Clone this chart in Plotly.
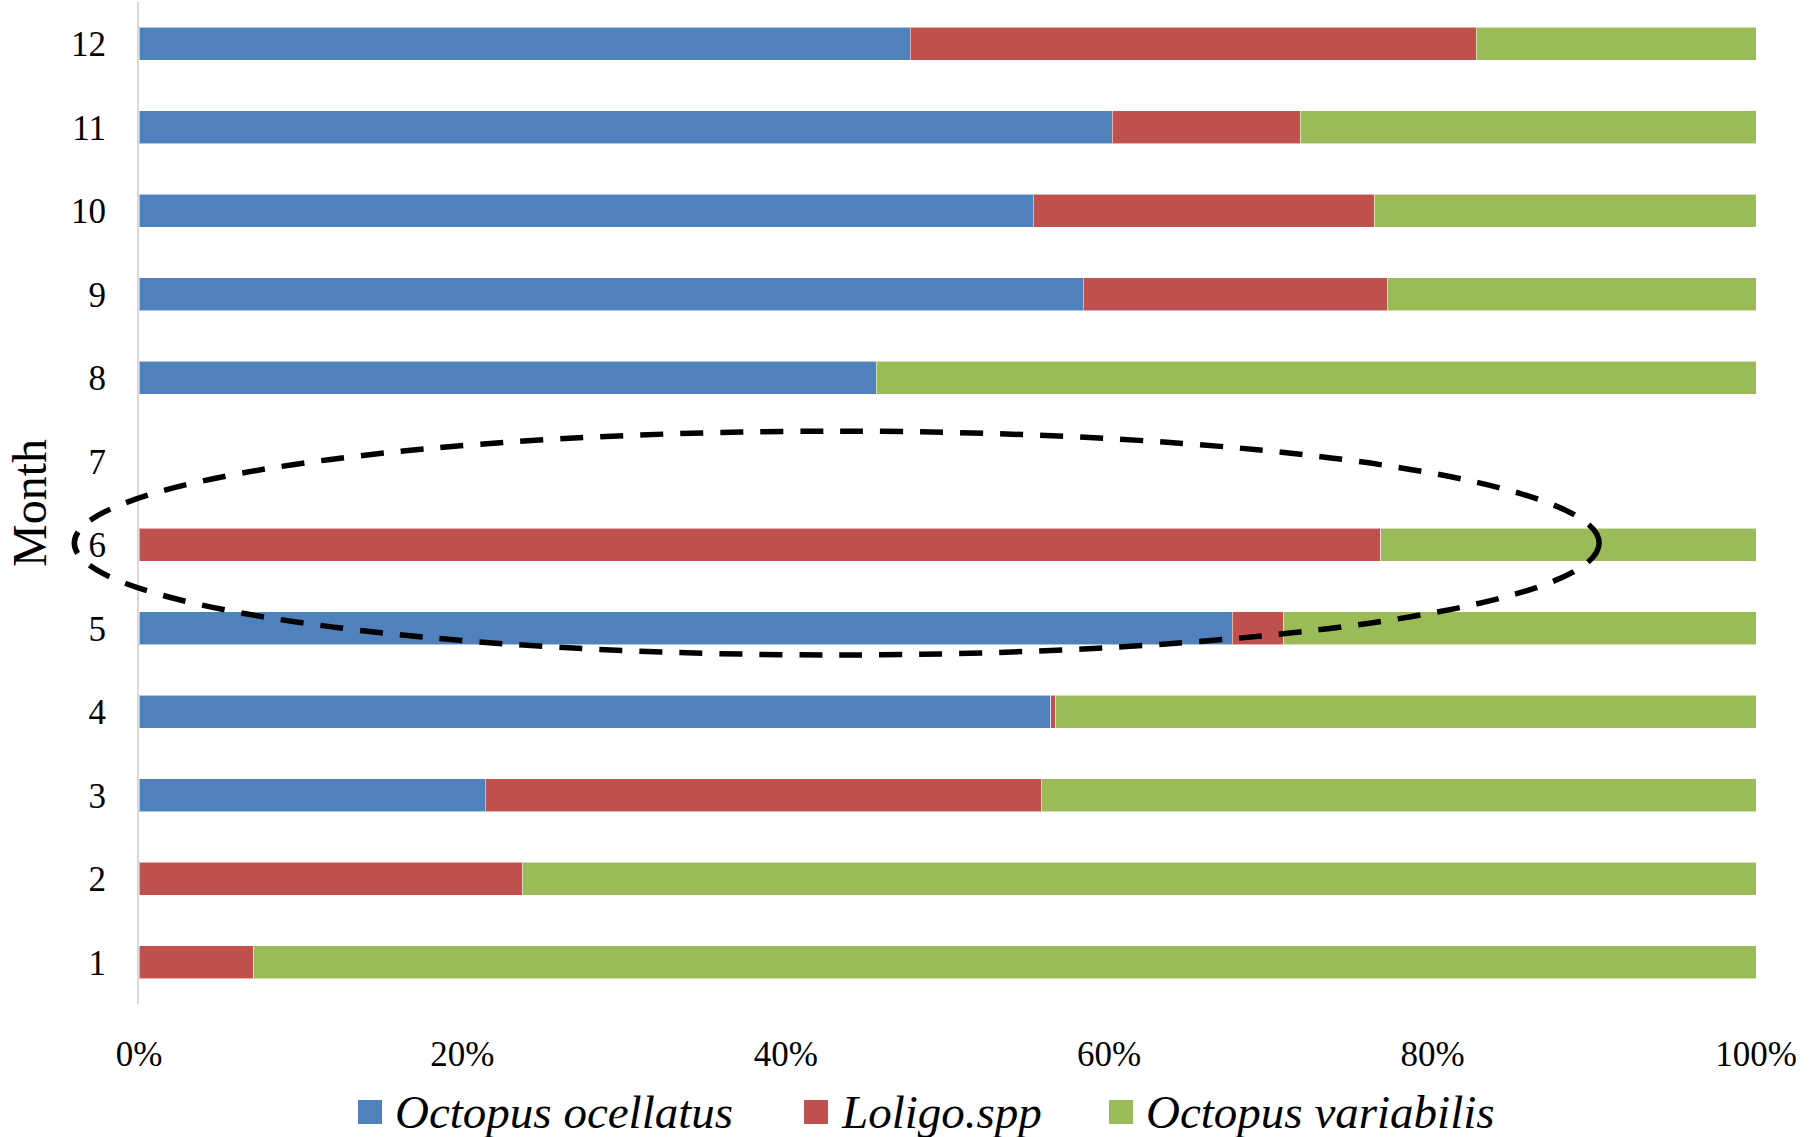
import plotly.graph_objects as go

# Monthly catch composition (percent of total) by species
months = [1, 2, 3, 4, 5, 6, 7, 8, 9, 10, 11, 12]
species = ["Octopus ocellatus", "Loligo.spp", "Octopus variabilis"]
octopus_ocellatus = [0.0, 0.0, 21.4, 56.4, 67.6, 0.0, 0.0, 45.6, 58.4, 55.3, 60.2, 47.7]
loligo_spp = [7.1, 23.7, 34.4, 0.3, 3.2, 76.8, 0.0, 0.0, 18.8, 21.1, 11.6, 35.0]
octopus_variabilis = [92.9, 76.3, 44.2, 43.3, 29.2, 23.2, 0.0, 54.4, 22.8, 23.6, 28.2, 17.3]
x_ticks = [0, 20, 40, 60, 80, 100]
x_tick_labels = ["0%", "20%", "40%", "60%", "80%", "100%"]

colors = ["#4F81BD", "#C0504D", "#9BBB59"]
series = [octopus_ocellatus, loligo_spp, octopus_variabilis]

FONT = "Liberation Serif, Times New Roman, serif"

fig = go.Figure()
for name, vals, col in zip(species, series, colors):
    fig.add_trace(go.Bar(
        y=months, x=vals, name=name, orientation="h",
        marker=dict(color=col, line=dict(color="rgba(255,255,255,0.55)", width=1)),
        showlegend=False,
    ))

fig.update_layout(
    barmode="stack",
    bargap=0.6,
    width=1816, height=1137,
    margin=dict(l=139, r=60, t=2, b=133),
    paper_bgcolor="white", plot_bgcolor="white",
    font=dict(family=FONT, size=35, color="black"),
)

fig.update_xaxes(
    range=[0, 100], tickvals=x_ticks, ticktext=x_tick_labels,
    showgrid=False, zeroline=False, showline=False,
    ticks="", ticklabelstandoff=26,
    tickfont=dict(family=FONT, size=35, color="black"),
)
fig.update_yaxes(
    range=[0.5, 12.5], tickvals=months, ticktext=[str(m) for m in months],
    showgrid=False, zeroline=False,
    showline=True, linecolor="#d9d9d9", linewidth=2,
    ticks="", ticklabelstandoff=24,
    tickfont=dict(family=FONT, size=35, color="black"),
    title=dict(text="Month", font=dict(family=FONT, size=48, color="black"), standoff=9),
)

# Dashed ellipse highlighting month 6, given in data units and mapped to the axis domain
ell_x = (-4.0, 90.3)
ell_y = (4.68, 7.36)
def xdom(v):
    return v / 100.0
def ydom(c):
    return (c - 0.5) / 12.0
fig.add_shape(
    type="circle", xref="x domain", yref="y domain",
    x0=xdom(ell_x[0]), x1=xdom(ell_x[1]), y0=ydom(ell_y[0]), y1=ydom(ell_y[1]),
    line=dict(color="black", width=5.5, dash="23px,17px"),
    fillcolor="rgba(0,0,0,0)", layer="above",
)

# Legend row below the axis: coloured squares with italic species names
legend_x = [358, 804, 1109]
legend_y = 1112
sq = 24
W, H = 1816, 1137
for name, col, lx in zip(species, colors, legend_x):
    fig.add_shape(
        type="rect", xref="paper", yref="paper",
        x0=(lx - 139) / (W - 139 - 60), x1=(lx + sq - 139) / (W - 139 - 60),
        y0=(1004 - (legend_y + sq / 2)) / (H - 2 - 133), y1=(1004 - (legend_y - sq / 2)) / (H - 2 - 133),
        fillcolor=col, line=dict(width=0),
    )
    fig.add_annotation(
        xref="paper", yref="paper",
        x=(lx + sq + 11 - 139) / (W - 139 - 60), y=(1004 - legend_y) / (H - 2 - 133),
        xanchor="left", yanchor="middle", showarrow=False,
        text=f"<i>{name}</i>",
        font=dict(family=FONT, size=47, color="black"),
    )

fig.write_html("out.html")
